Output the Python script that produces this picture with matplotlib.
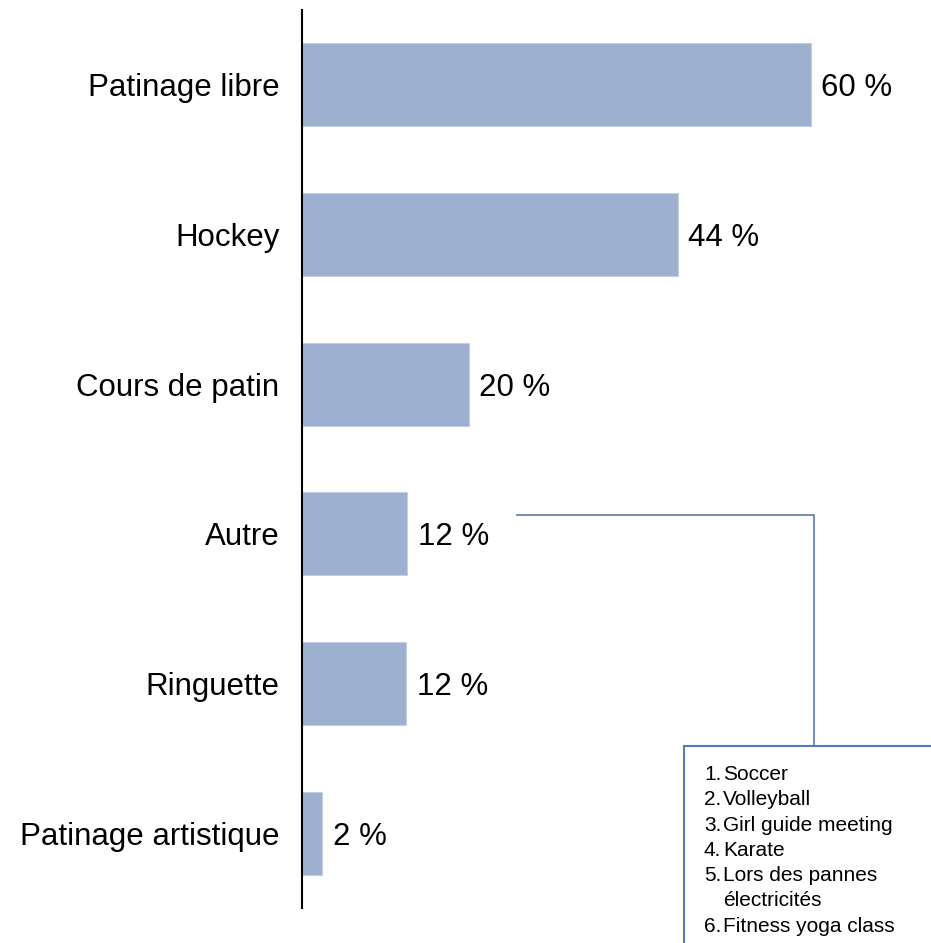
import matplotlib.pyplot as plt
from matplotlib.lines import Line2D
from matplotlib.patches import Rectangle

plt.rcParams['font.family'] = ['Liberation Sans', 'DejaVu Sans']

categories = ["Patinage libre", "Hockey", "Cours de patin", "Autre",
              "Ringuette", "Patinage artistique"]
values = [60, 44.3, 19.7, 12.45, 12.35, 2.45]
other_items = [["Soccer"], ["Volleyball"], ["Girl guide meeting"], ["Karate"],
               ["Lors des pannes", "électricités"], ["Fitness yoga class"]]

W, H = 931, 943
fig = plt.figure(figsize=(W / 100, H / 100), dpi=100)

# axes placed in pixel coordinates of the reference
x0, x1 = 301.5, 931
y_top, y_bot = 10, 908
ax = fig.add_axes([x0 / W, 1 - y_bot / H, (x1 - x0) / W, (y_bot - y_top) / H])

px_per_unit = 509.5 / 60  # 60 % bar ends at x=811

pos = list(range(len(categories)))
ax.barh(pos, values, height=0.555, color='#9eb0cf', edgecolor='#c3cee2', linewidth=0.8)
ax.set_ylim(len(categories) - 0.5, -0.5)
ax.set_xlim(0, (x1 - x0) / px_per_unit)

ax.set_yticks(pos)
ax.set_yticklabels(categories, fontsize=22.5)
ax.tick_params(axis='y', length=0, pad=16)
ax.set_xticks([])
for side in ['top', 'right', 'bottom']:
    ax.spines[side].set_visible(False)
ax.spines['left'].set_linewidth(1.5)
ax.spines['left'].set_color('black')

for p, v in zip(pos, values):
    ax.annotate(f"{round(v)} %", xy=(v, p), xytext=(7.5, -2.5), textcoords='offset points',
                va='center', ha='left', fontsize=22.5)

# callout from "Autre" to the list of other activities
def fx(px):
    return px / W

def fy(py):
    return 1 - py / H

line_color = '#5a7ab3'
fig.add_artist(Line2D([fx(517), fx(814), fx(814)], [fy(515), fy(515), fy(746)],
                      transform=fig.transFigure, color=line_color, lw=1.2))
fig.add_artist(Rectangle((fx(684), fy(960)), fx(300), fy(746) - fy(960),
                         transform=fig.transFigure, facecolor='white',
                         edgecolor=line_color, lw=1.5))

line_h = 25.3
y = 780
for i, lines in enumerate(other_items):
    fig.text(fx(704), fy(y), f"{i + 1}.", fontsize=15, ha='left', va='baseline')
    for ln in lines:
        fig.text(fx(723), fy(y), ln, fontsize=15, ha='left', va='baseline')
        y += line_h

fig.savefig("out.png", dpi=100)
